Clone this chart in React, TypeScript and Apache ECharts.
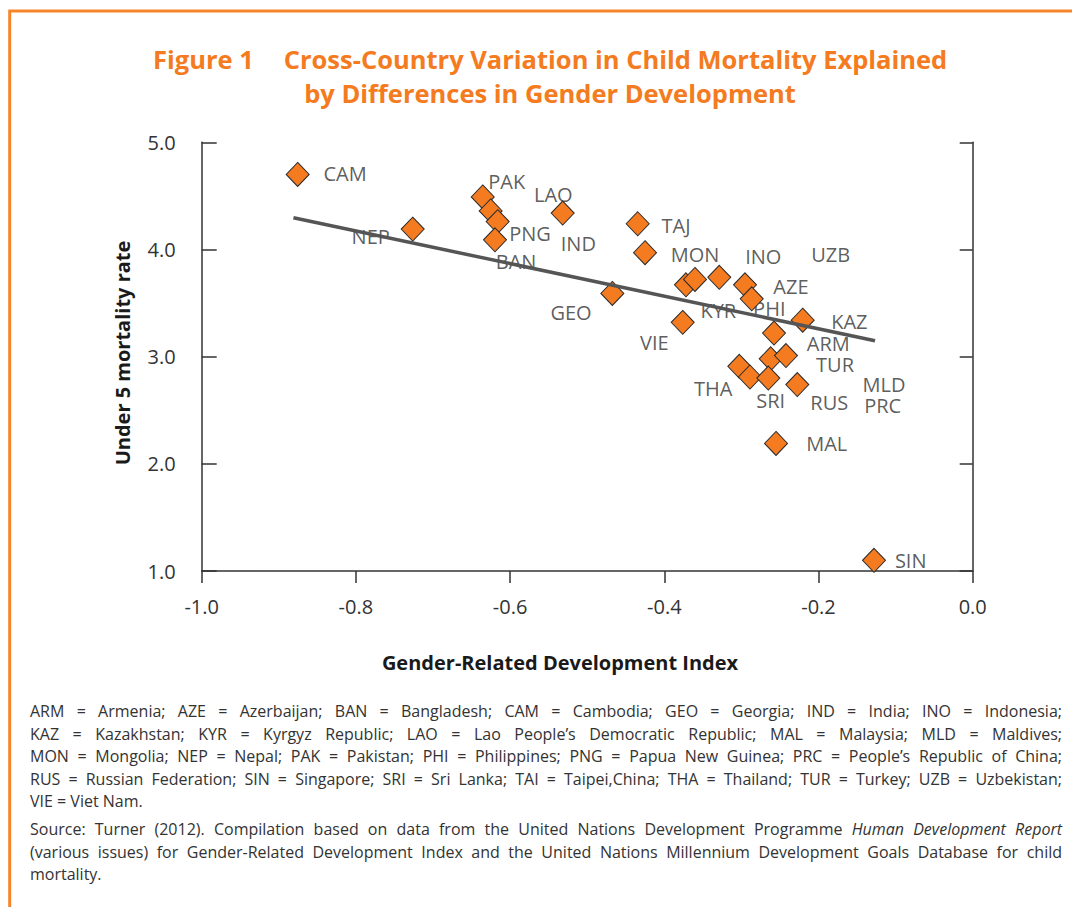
import React, { useEffect, useRef } from 'react';
import * as echarts from 'echarts';

// ---- Data ----
const gdiValues = [-0.8755, -0.7263, -0.6355, -0.6252, -0.6161, -0.6196, -0.5318, -0.4345, -0.425, -0.4674, -0.3761, -0.3719, -0.3602, -0.3287, -0.2953, -0.2866, -0.2205, -0.2577, -0.262, -0.2422, -0.3027, -0.2889, -0.2651, -0.2275, -0.2551, -0.128];
const mortalityValues = [4.70, 4.19, 4.49, 4.36, 4.26, 4.09, 4.34, 4.24, 3.97, 3.59, 3.32, 3.67, 3.72, 3.74, 3.67, 3.54, 3.34, 3.22, 2.98, 3.01, 2.91, 2.81, 2.80, 2.74, 2.19, 1.10];

const labelNames = ['CAM', 'NEP', 'PAK', 'LAO', 'PNG', 'IND', 'BAN', 'TAJ', 'MON', 'INO', 'UZB', 'AZE', 'GEO', 'KYR', 'PHI', 'KAZ', 'VIE', 'ARM', 'TUR', 'THA', 'SRI', 'MLD', 'RUS', 'PRC', 'MAL', 'SIN'];
const labelGdi = [-0.8141, -0.7808, -0.6044, -0.544, -0.5742, -0.5115, -0.5923, -0.3848, -0.3602, -0.2716, -0.1842, -0.2357, -0.521, -0.33, -0.2638, -0.16, -0.413, -0.1873, -0.1786, -0.3365, -0.262, -0.115, -0.186, -0.1167, -0.1894, -0.0804];
const labelMortality = [4.71, 4.125, 4.63, 4.51, 4.15, 4.06, 3.885, 4.22, 3.95, 3.93, 3.95, 3.65, 3.41, 3.43, 3.45, 3.33, 3.13, 3.12, 2.93, 2.70, 2.59, 2.74, 2.57, 2.54, 2.19, 1.10];

const trendGdi = [-0.881, -0.1267];
const trendMortality = [4.296, 3.148];

const titleLine1Prefix = 'Figure 1';
const titleLine1 = 'Cross-Country Variation in Child Mortality Explained';
const titleLine2 = 'by Differences in Gender Development';
const xAxisName = 'Gender-Related Development Index';
const yAxisName = 'Under 5 mortality rate';

const abbrevLines = [
  'ARM = Armenia; AZE = Azerbaijan; BAN = Bangladesh; CAM = Cambodia; GEO = Georgia; IND = India; INO = Indonesia;',
  'KAZ = Kazakhstan; KYR = Kyrgyz Republic; LAO = Lao People\u2019s Democratic Republic; MAL = Malaysia; MLD = Maldives;',
  'MON = Mongolia; NEP = Nepal; PAK = Pakistan; PHI = Philippines; PNG = Papua New Guinea; PRC = People\u2019s Republic of China;',
  'RUS = Russian Federation; SIN = Singapore; SRI = Sri Lanka; TAI = Taipei,China; THA = Thailand; TUR = Turkey; UZB = Uzbekistan;',
  'VIE = Viet Nam.',
];
const sourceLines = [
  'Source: Turner (2012). Compilation based on data from the United Nations Development Programme *Human Development Report*',
  '(various issues) for Gender-Related Development Index and the United Nations Millennium Development Goals Database for child',
  'mortality.',
];

// ---- Layout / style constants ----
const FONT = "'Open Sans', sans-serif";
const ORANGE = '#F47B20';
const TEXT = '#333333';
const FOOT_SIZE_MAX = 16;
const FOOT_LEFT = 30;
const FOOT_RIGHT = 1062;
const ABBREV_Y0 = 711;
const SOURCE_Y0 = 829;
const LINE_H = 22.5;
const LABEL_SIZE = 20;
const TITLE_SIZE = 25.5;

function buildFootnote(): any[] {
  const canvas = document.createElement('canvas');
  const ctx = canvas.getContext('2d')!;
  const fontOf = (italic: boolean, size: number) => `${italic ? 'italic ' : ''}${size}px ${FONT}`;
  const measure = (t: string, italic: boolean, size: number) => {
    ctx.font = fontOf(italic, size);
    return ctx.measureText(t).width;
  };
  const tokenize = (line: string) => {
    let italic = false;
    return line.split(' ').map((raw) => {
      let t = raw;
      let it = italic;
      if (t.startsWith('*')) { t = t.slice(1); it = true; italic = true; }
      if (t.endsWith('*')) { t = t.slice(0, -1); italic = false; }
      return { t, it };
    });
  };
  // one size so that every justified line fits with at least a normal space
  let size = FOOT_SIZE_MAX;
  [...abbrevLines, ...sourceLines].forEach((line) => {
    const toks = tokenize(line);
    const natural = toks.reduce((a, b) => a + measure(b.t, b.it, FOOT_SIZE_MAX), 0) + (toks.length - 1) * measure(' ', false, FOOT_SIZE_MAX);
    const avail = FOOT_RIGHT - FOOT_LEFT;
    if (natural > avail) size = Math.min(size, FOOT_SIZE_MAX * avail / natural);
  });
  const els: any[] = [];
  const doLine = (line: string, y: number, justify: boolean) => {
    const toks = tokenize(line).map((tk) => ({ ...tk, w: measure(tk.t, tk.it, size) }));
    const sum = toks.reduce((a, b) => a + b.w, 0);
    const gap = justify && toks.length > 1 ? (FOOT_RIGHT - FOOT_LEFT - sum) / (toks.length - 1) : measure(' ', false, size);
    let x = FOOT_LEFT;
    toks.forEach((tk) => {
      els.push({
        type: 'text', x, y, silent: true,
        style: { text: tk.t, font: fontOf(tk.it, size), fill: TEXT, textAlign: 'left', textVerticalAlign: 'middle', verticalAlign: 'middle' },
      });
      x += tk.w + gap;
    });
  };
  abbrevLines.forEach((l, i) => doLine(l, ABBREV_Y0 + i * LINE_H, i < abbrevLines.length - 1));
  sourceLines.forEach((l, i) => doLine(l, SOURCE_Y0 + i * LINE_H, i < sourceLines.length - 1));
  return els;
}

export default function App() {
  const ref = useRef<HTMLDivElement>(null);
  useEffect(() => {
    const chart = echarts.init(ref.current!, null, { renderer: 'svg' });
    const axisLineStyle = { color: TEXT, width: 1.5 };
    const option: any = {
      animation: false,
      backgroundColor: '#ffffff',
      grid: { left: 201.7, right: 99.3, top: 142.3, bottom: 336, containLabel: false },
      xAxis: {
        type: 'value', min: -1, max: 0, interval: 0.2,
        axisLine: { show: true, onZero: false, lineStyle: axisLineStyle },
        axisTick: { show: true, inside: false, length: 12, lineStyle: axisLineStyle },
        axisLabel: { formatter: (v: number) => v.toFixed(1), color: TEXT, fontSize: LABEL_SIZE, fontFamily: FONT, margin: 25 },
        splitLine: { show: false },
      },
      yAxis: [
        {
          type: 'value', min: 1, max: 5, interval: 1, position: 'left',
          axisLine: { show: true, onZero: false, lineStyle: axisLineStyle },
          axisTick: { show: true, inside: true, length: 15, lineStyle: axisLineStyle },
          axisLabel: { formatter: (v: number) => v.toFixed(1), color: TEXT, fontSize: LABEL_SIZE, fontFamily: FONT, margin: 26 },
          splitLine: { show: false },
        },
        {
          type: 'value', min: 1, max: 5, interval: 1, position: 'right',
          axisLine: { show: true, onZero: false, lineStyle: axisLineStyle },
          axisTick: { show: true, inside: true, length: 13, lineStyle: axisLineStyle },
          axisLabel: { show: false },
          splitLine: { show: false },
        },
      ],
      series: [
        {
          type: 'scatter', name: 'labels', z: 1, silent: true,
          symbolSize: 0,
          data: labelNames.map((n, i) => ({ name: n, value: [labelGdi[i], labelMortality[i]] })),
          label: { show: true, position: 'inside', formatter: (p: any) => p.name, color: TEXT, fontSize: LABEL_SIZE, fontFamily: FONT },
        },
        {
          type: 'scatter', name: 'countries', z: 2,
          symbol: 'diamond', symbolSize: [23, 24],
          itemStyle: { color: ORANGE, borderColor: '#2b2b2b', borderWidth: 1, opacity: 1 },
          data: gdiValues.map((g, i) => [g, mortalityValues[i]]),
        },
        {
          type: 'line', name: 'trend', z: 3, silent: true,
          symbol: 'none',
          lineStyle: { color: '#555555', width: 3.5 },
          data: trendGdi.map((g, i) => [g, trendMortality[i]]),
        },
      ],
      graphic: [
        {
          type: 'polyline', silent: true,
          shape: { points: [[9.7, 907], [9.7, 11], [1072, 11]] },
          style: { stroke: '#F7862A', lineWidth: 3, fill: null },
        },
        {
          type: 'text', x: 153, y: 58.5, silent: true,
          style: { text: titleLine1Prefix, font: `bold ${TITLE_SIZE}px ${FONT}`, fill: ORANGE, textAlign: 'left', textVerticalAlign: 'middle', verticalAlign: 'middle' },
        },
        {
          type: 'text', x: 615.5, y: 58.5, silent: true,
          style: { text: titleLine1, font: `bold ${TITLE_SIZE}px ${FONT}`, fill: ORANGE, textAlign: 'center', textVerticalAlign: 'middle', verticalAlign: 'middle' },
        },
        {
          type: 'text', x: 550, y: 93, silent: true,
          style: { text: titleLine2, font: `bold ${TITLE_SIZE}px ${FONT}`, fill: ORANGE, textAlign: 'center', textVerticalAlign: 'middle', verticalAlign: 'middle' },
        },
        {
          type: 'text', x: 122, y: 353, rotation: Math.PI / 2, silent: true,
          style: { text: yAxisName, font: `bold 20px ${FONT}`, fill: '#1a1a1a', textAlign: 'center', textVerticalAlign: 'middle', verticalAlign: 'middle' },
        },
        {
          type: 'text', x: 560, y: 662, silent: true,
          style: { text: xAxisName, font: `bold 20px ${FONT}`, fill: '#1a1a1a', textAlign: 'center', textVerticalAlign: 'middle', verticalAlign: 'middle' },
        },
        ...buildFootnote(),
      ],
    };
    chart.setOption(option);
    return () => chart.dispose();
  }, []);
  return (
    <div
      ref={ref}
      style={{ position: 'absolute', left: 0, top: 0, width: 1072, height: 907, background: '#ffffff' }}
    />
  );
}
